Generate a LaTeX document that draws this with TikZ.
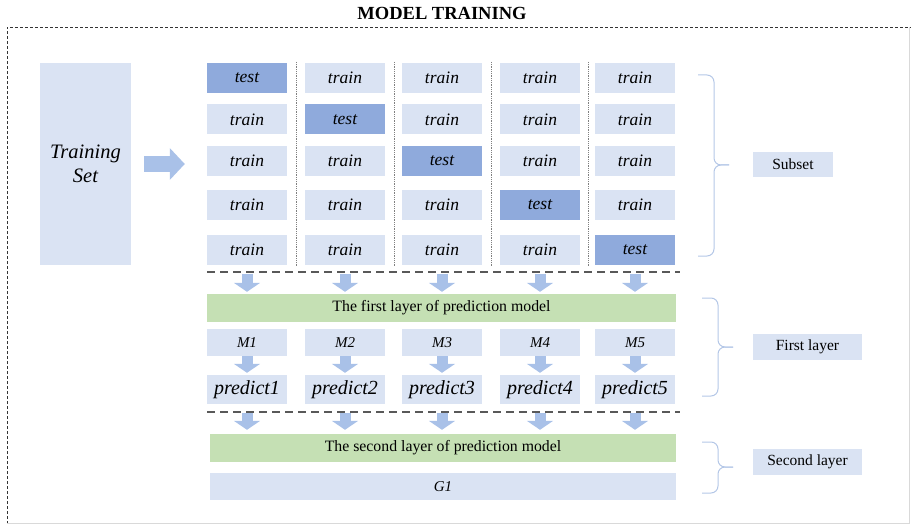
\documentclass[tikz,border=0pt]{standalone}
\usepackage{fontspec}
\setmainfont{Liberation Serif}
\usetikzlibrary{positioning, arrows.meta}

\definecolor{cellblue}{HTML}{DAE3F3}
\definecolor{testblue}{HTML}{8FAADC}
\definecolor{bargreen}{HTML}{C5E0B4}
\definecolor{arrowblue}{HTML}{A9C1E8}
\definecolor{braceblue}{HTML}{B4C7E7}

% side brace: x, top y, bottom y, tip y
\newcommand{\sidebrace}[4]{
    \draw[brace] (#1,#2) -| (#1+16,#4) -- (#1+31,#4);
    \draw[brace] (#1,#3) -| (#1+16,#4) -- (#1+31,#4);
}

\begin{document}
\begin{tikzpicture}[x=1pt, y=-1pt,
    cell/.style={fill=cellblue, minimum width=80pt, minimum height=30pt, inner sep=0pt, font=\fontsize{17.5}{20}\selectfont\itshape},
    testcell/.style={cell, fill=testblue},
    bar/.style={fill=bargreen, minimum height=28pt, inner sep=0pt, font=\fontsize{15.8}{18}\selectfont},
    label box/.style={fill=cellblue, minimum height=26pt, inner sep=0pt, font=\fontsize{15.5}{18}\selectfont},
    block arrow/.style={draw=arrowblue, line width=11pt, -{Triangle[length=9pt, width=26pt]}},
    layer line/.style={draw=black!65, line width=1.4pt, dash pattern=on 8pt off 5pt},
    brace/.style={draw=braceblue, line width=1pt, rounded corners=7pt}]
    \useasboundingbox (0,0) rectangle (911,524);

    % frame
    \node[font=\fontsize{18.5}{22}\selectfont\bfseries] (title) at (442,13) {MODEL TRAINING};
    \draw[black!80, line width=0.8pt, dash pattern=on 3pt off 2pt] (7,524) -- (7,27) -- (911,27);
    \draw[black!15, line width=0.6pt] (7,523) -- (909,523) -- (909,27);

    \node[cell, minimum width=91pt, minimum height=202pt, align=center, font=\fontsize{20.5}{24}\selectfont\itshape] (trainset) at (85.5,164) {Training\\Set};

    % subsets
    \foreach \col/\x in {1/247,2/345,3/442,4/540,5/635} {
        \foreach \row/\y in {1/78,2/119.5,3/161,4/205,5/249.5} {
            \ifnum\col=\row
                \node[testcell] (c\col\row) at (\x,\y) {test};
            \else
                \node[cell] (c\col\row) at (\x,\y) {train};
            \fi
        }
    }
    \foreach \i/\x in {1/296,2/394,3/491,4/588}
        \draw[black!50, densely dotted, line width=0.8pt] (\x,62) -- (\x,266);

    \draw[layer line] (207,272) -- (680,272);
    \draw[layer line] (207,412) -- (680,412);

    % first layer
    \node[bar, minimum width=469pt] (bar1) at (441.5,308) {The first layer of prediction model};
    \foreach \col/\x in {1/247,2/345,3/442,4/540,5/635} {
        \node[cell, minimum height=27pt, font=\fontsize{15}{18}\selectfont\itshape] (m\col) at (\x,342.5) {M\col};
        \node[cell, minimum height=29pt, font=\fontsize{20}{24}\selectfont\itshape] (p\col) at (\x,389.5) {predict\col};
    }

    % second layer
    \node[bar, minimum width=466pt] (bar2) at (443,448) {The second layer of prediction model};
    \node[cell, minimum width=466pt, minimum height=27pt, font=\fontsize{15}{18}\selectfont\itshape] (g1) at (443,486.5) {G1};

    % labels
    \node[label box, minimum width=80pt, minimum height=25pt] (subset) at (793,164.5) {Subset};
    \node[label box, minimum width=109pt] (firstlayer) at (807.5,347) {First layer};
    \node[label box, minimum width=109pt] (secondlayer) at (807.5,462) {Second layer};

    \sidebrace{698}{75}{256}{165}
    \sidebrace{702}{298}{396}{347}
    \sidebrace{702}{442}{493}{467}

    % arrows
    \draw[draw=arrowblue, line width=16pt, -{Triangle[length=15pt, width=31pt]}, shorten <=13pt, shorten >=22pt] (trainset.east) -- (trainset.east -| c13.west);
    \foreach \col in {1,...,5} {
        \draw[block arrow, shorten <=9pt, shorten >=2pt] (c\col5.south) -- (c\col5.south |- bar1.north);
        \draw[block arrow, shorten >=2pt] (m\col) -- (p\col);
        \draw[block arrow, shorten <=9pt, shorten >=4pt] (p\col.south) -- (p\col.south |- bar2.north);
    }
\end{tikzpicture}
\end{document}
